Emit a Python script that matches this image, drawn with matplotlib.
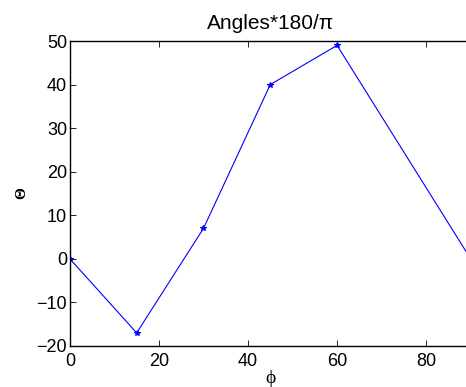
import matplotlib
matplotlib.use("Agg")
import matplotlib.pyplot as plt

# data
phi = [0, 15, 30, 45, 60, 90]
theta = [0, -17, 7, 40, 49, 0]
x_ticks = [0, 20, 40, 60, 80]
y_ticks = [-20, -10, 0, 10, 20, 30, 40, 50]

plt.rcParams['font.family'] = ['Liberation Sans', 'DejaVu Sans']

fig = plt.figure(figsize=(4.66, 3.87), dpi=100)
ax = fig.add_axes([0.150, 0.106, 0.860, 0.788])

ax.plot(phi, theta, color='#0000ff', lw=0.8, marker='*', markersize=4,
        markeredgewidth=0.8)

ax.set_xlim(0, 90)
ax.set_ylim(-20, 50)
ax.set_xticks(x_ticks)
ax.set_yticks(y_ticks)
ax.set_yticklabels([str(v).replace('-', '\u2212') for v in y_ticks])
# right side of the box falls just off the image
ax.tick_params(direction='in', length=4, width=0.6, labelsize=13,
               top=True, right=False, pad=2)
ax.tick_params(axis='x', pad=5)
for s in ax.spines.values():
    s.set_linewidth(1.0)

ax.set_title('Angles*180/\u03c0', fontsize=15, pad=9)
ax.set_xlabel('\u03d5', fontsize=14, family=['Liberation Serif', 'DejaVu Serif'],
              labelpad=0)
ax.set_ylabel('\u0398', fontsize=11, family=['Liberation Serif'],
              fontweight='bold', labelpad=6)

fig.savefig('out.png', dpi=100)
